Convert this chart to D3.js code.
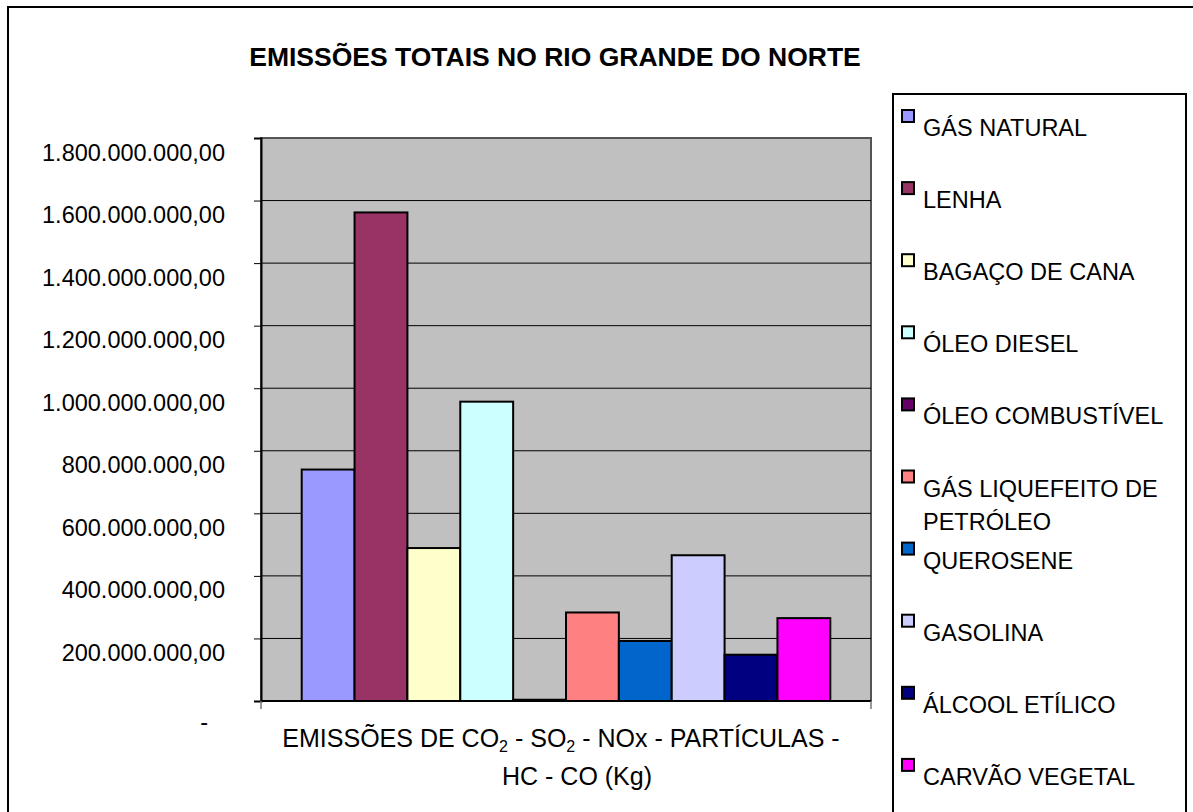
<!DOCTYPE html>
<html>
<head>
<meta charset="utf-8">
<script src="https://cdn.jsdelivr.net/npm/d3@7"></script>
<style>
  html, body { margin: 0; padding: 0; background: #fff; }
  svg { display: block; font-family: "Liberation Sans", Arial, sans-serif; }
</style>
</head>
<body>
<svg id="chart" width="1193" height="812"></svg>
<script>
// Emissões totais por fonte de energia (kg)
const title = "EMISSÕES TOTAIS NO RIO GRANDE DO NORTE";
const category = ["EMISSÕES"];
const series = [
  "GÁS NATURAL", "LENHA", "BAGAÇO DE CANA", "ÓLEO DIESEL", "ÓLEO COMBUSTÍVEL",
  "GÁS LIQUEFEITO DE PETRÓLEO", "QUEROSENE", "GASOLINA", "ÁLCOOL ETÍLICO", "CARVÃO VEGETAL"
];
const values = [740e6, 1562e6, 489e6, 957e6, 4e6, 283e6, 192e6, 466e6, 148e6, 265e6];
const colors = [
  "#9999FF", "#993366", "#FFFFCC", "#CCFFFF", "#660066",
  "#FF8080", "#0066CC", "#CCCCFF", "#000080", "#FF00FF"
];
const yTicks = [0, 2e8, 4e8, 6e8, 8e8, 10e8, 12e8, 14e8, 16e8, 18e8];
const xLabelLines = [
  [["EMISSÕES DE CO", false], ["2", true], [" - SO", false], ["2", true], [" - NOx - PARTÍCULAS -", false]],
  [["HC - CO (Kg)", false]]
];

const svg = d3.select("#chart");
const plot = { left: 261, top: 138, right: 871, bottom: 701 };

const ptBR = d3.formatLocale({ decimal: ",", thousands: ".", grouping: [3], currency: ["R$", ""] });
const fmt = ptBR.format(",.2f");

// outer chart frame
svg.append("rect")
  .attr("x", 8).attr("y", 7).attr("width", 1220).attr("height", 830)
  .attr("fill", "#fff").attr("stroke", "#000").attr("stroke-width", 2);

// title
svg.append("text")
  .attr("x", 555).attr("y", 66)
  .attr("text-anchor", "middle")
  .attr("font-size", 26.5).attr("font-weight", "bold")
  .text(title);

const y = d3.scaleLinear().domain([0, 1.8e9]).range([plot.bottom, plot.top]);
const x0 = d3.scaleBand().domain(category).range([plot.left, plot.right])
  .paddingInner(0).paddingOuter(0.077);
const x1 = d3.scaleBand().domain(series).range([0, x0.bandwidth()]).padding(0);

// plot background
svg.append("rect")
  .attr("x", plot.left).attr("y", plot.top)
  .attr("width", plot.right - plot.left).attr("height", plot.bottom - plot.top)
  .attr("fill", "#C0C0C0").attr("stroke", "#555").attr("stroke-width", 2);

// gridlines
svg.append("g")
  .selectAll("line")
  .data(yTicks.filter(d => d > 0 && d < 1.8e9))
  .join("line")
  .attr("x1", plot.left).attr("x2", plot.right)
  .attr("y1", d => y(d)).attr("y2", d => y(d))
  .attr("stroke", "#000").attr("stroke-width", 1);

// bars
svg.append("g")
  .selectAll("rect")
  .data(series.map((s, i) => ({ s, v: values[i], c: colors[i] })))
  .join("rect")
  .attr("x", d => x0(category[0]) + x1(d.s))
  .attr("y", d => y(d.v))
  .attr("width", x1.bandwidth())
  .attr("height", d => y(0) - y(d.v))
  .attr("fill", d => d.c)
  .attr("stroke", "#000").attr("stroke-width", 2);

// y axis
const yAxis = svg.append("g")
  .attr("transform", `translate(${plot.left},0)`)
  .call(d3.axisLeft(y).tickValues(yTicks).tickSize(7).tickPadding(29)
    .tickFormat(d => d === 0 ? "-" : fmt(d)));
yAxis.select(".domain").attr("stroke", "#000").attr("stroke-width", 2);
yAxis.selectAll(".tick line").attr("stroke", "#000");
yAxis.selectAll(".tick text")
  .attr("font-family", "Liberation Sans, Arial, sans-serif")
  .attr("font-size", 23.5).attr("fill", "#000")
  .attr("dy", d => d === 0 ? "28px" : "22px")
  .attr("dx", d => d === 0 ? "-17px" : "0px");

// x axis
const xAxis = svg.append("g")
  .attr("transform", `translate(0,${plot.bottom})`);
xAxis.append("line")
  .attr("x1", plot.left).attr("x2", plot.right)
  .attr("stroke", "#000").attr("stroke-width", 2);
xAxis.selectAll("line.tk")
  .data(x0.range())
  .join("line").attr("class", "tk")
  .attr("x1", d => d).attr("x2", d => d)
  .attr("y1", 0).attr("y2", 8)
  .attr("stroke", "#777").attr("stroke-width", 1.5);

// category label (two lines with subscripts)
const xl = svg.append("g").attr("font-size", 25);
const lineCenters = [561, 577];
xLabelLines.forEach((parts, li) => {
  const t = xl.append("text")
    .attr("x", lineCenters[li]).attr("y", 747 + li * 38)
    .attr("text-anchor", "middle");
  parts.forEach(([txt, sub]) => {
    const ts = t.append("tspan").text(txt);
    if (sub) ts.attr("font-size", 16).attr("dy", 5);
    else if (t.selectAll("tspan").size() > 1) ts.attr("dy", -5);
  });
});

// legend
const lg = svg.append("g");
lg.append("rect")
  .attr("x", 893).attr("y", 94).attr("width", 293).attr("height", 740)
  .attr("fill", "#fff").attr("stroke", "#000").attr("stroke-width", 2);
const maxW = 258;
series.forEach((s, i) => {
  const top = 110 + i * 72.1;
  lg.append("rect")
    .attr("x", 902).attr("y", top).attr("width", 12).attr("height", 12)
    .attr("fill", colors[i]).attr("stroke", "#000").attr("stroke-width", 2);
  const t = lg.append("text").attr("x", 923).attr("y", top + 26).attr("font-size", 23.5);
  const words = s.split(" ");
  let line = [];
  let ts = t.append("tspan").attr("x", 923);
  words.forEach(w => {
    line.push(w);
    ts.text(line.join(" "));
    if (ts.node().getComputedTextLength() > maxW && line.length > 1) {
      line.pop();
      ts.text(line.join(" "));
      line = [w];
      ts = t.append("tspan").attr("x", 923).attr("dy", 33).text(w);
    }
  });
});
</script>
</body>
</html>
